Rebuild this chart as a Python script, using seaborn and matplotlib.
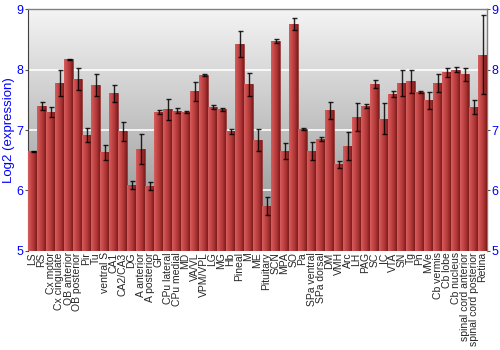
import numpy as np
import pandas as pd
import matplotlib
matplotlib.use('Agg')
import matplotlib.pyplot as plt
import seaborn as sns
from matplotlib.colors import LinearSegmentedColormap

regions = ["LS", "RS", "Cx motor", "Cx cingulate", "OB anterior", "OB posterior",
           "Pir", "Tu", "ventral S", "CA1", "CA2/CA3", "DG", "A anterior",
           "A posterior", "GP", "CPu lateral", "CPu medial", "MD", "VA/VL",
           "VPM/VPL", "LG", "MG", "Hb", "Pineal", "M", "ME", "Pituitary", "SCN",
           "MPA", "SO", "Pa", "SPa ventral", "SPa dorsal", "DM", "VMH", "Arc",
           "LH", "PAG", "SC", "IC", "VTA", "SN", "Tg", "Pn", "MVe", "Cb vermis",
           "Cb lobe", "Cb nucleus", "spinal cord anterior",
           "spinal cord posterior", "Retina"]
values = [6.645, 7.40, 7.30, 7.78, 8.17, 7.84, 6.92, 7.74, 6.63, 7.61, 6.98,
          6.09, 6.68, 6.07, 7.30, 7.34, 7.32, 7.30, 7.64, 7.91, 7.38, 7.34,
          6.98, 8.42, 7.76, 6.84, 5.75, 8.47, 6.65, 8.75, 7.02, 6.65, 6.85,
          7.33, 6.43, 6.73, 7.22, 7.40, 7.76, 7.19, 7.595, 7.78, 7.81, 7.63,
          7.49, 7.78, 7.955, 8.00, 7.92, 7.38, 8.245]
errors = [0.01, 0.07, 0.08, 0.21, 0.01, 0.18, 0.12, 0.18, 0.12, 0.14, 0.16,
          0.06, 0.25, 0.07, 0.03, 0.18, 0.04, 0.02, 0.16, 0.02, 0.04, 0.02,
          0.04, 0.21, 0.19, 0.18, 0.15, 0.03, 0.13, 0.10, 0.02, 0.15, 0.035,
          0.14, 0.05, 0.23, 0.23, 0.03, 0.065, 0.26, 0.05, 0.22, 0.19, 0.01,
          0.14, 0.15, 0.075, 0.04, 0.11, 0.11, 0.65]
yticks = [5, 6, 7, 8, 9]

sns.set_style('white')
plt.rcParams['font.family'] = ['Liberation Sans', 'DejaVu Sans']

df = pd.DataFrame({'region': regions, 'value': values, 'err': errors})

fig = plt.figure(figsize=(5, 3.5), dpi=100)
ax = fig.add_axes([0.056, 0.283, 0.918, 0.691])

sns.barplot(data=df, x='region', y='value', color='#b83a3a', width=0.9,
            errorbar=None, ax=ax, zorder=3, saturation=1,
            edgecolor='#7a1c1c', linewidth=0.4)

ymin, ymax = yticks[0], yticks[-1]

# background gradient
bg = np.linspace(0, 1, 256).reshape(-1, 1)
bg_cmap = LinearSegmentedColormap.from_list('bg', ['#f4f4f4', '#8a8a8a'])
ax.imshow(bg, cmap=bg_cmap, extent=(0, 1, 0, 1), transform=ax.transAxes,
          aspect='auto', zorder=0)

# bar gradient (clipped to each bar, restricted to the visible range)
bar_cmap = LinearSegmentedColormap.from_list(
    'bar', ['#d65e5e', '#c44848', '#ad3434', '#7c1c1c'])
grad = np.linspace(0, 1, 64).reshape(1, -1)
for p in list(ax.patches):
    x0 = p.get_x(); w = p.get_width(); h = p.get_height()
    im = ax.imshow(grad, cmap=bar_cmap, extent=(x0, x0 + w, ymin, h),
                   aspect='auto', zorder=3.5)
    im.set_clip_path(p)

ax.errorbar(x=np.arange(len(regions)), y=df['value'], yerr=df['err'],
            fmt='none', ecolor='black', elinewidth=1, capsize=1.8,
            capthick=1, zorder=5, alpha=0.85)

for y in yticks[1:-1]:
    ax.axhline(y, color='white', lw=1.3, zorder=1, alpha=0.9)

ax.set_xlim(-0.5, len(regions) - 0.5)
ax.set_ylim(ymin, ymax)
ax.set_yticks(yticks)
ax.set_yticklabels([str(t) for t in yticks])
ax.tick_params(axis='y', labelcolor='blue', labelsize=9, left=True,
               right=True, labelright=True, length=2, width=0.8,
               color='#555555', pad=1)
ax.tick_params(axis='x', labelsize=7.5, length=0, pad=1, rotation=90)
ax.set_xlabel('')
ax.set_ylabel('Log2 (expression)', color='blue', fontsize=9.5, labelpad=1)

for s in ['top', 'right']:
    ax.spines[s].set_color('#808080')
    ax.spines[s].set_linewidth(1)
ax.spines['left'].set_color('#404040')
ax.spines['bottom'].set_visible(False)

fig.savefig('out.png', dpi=100)
